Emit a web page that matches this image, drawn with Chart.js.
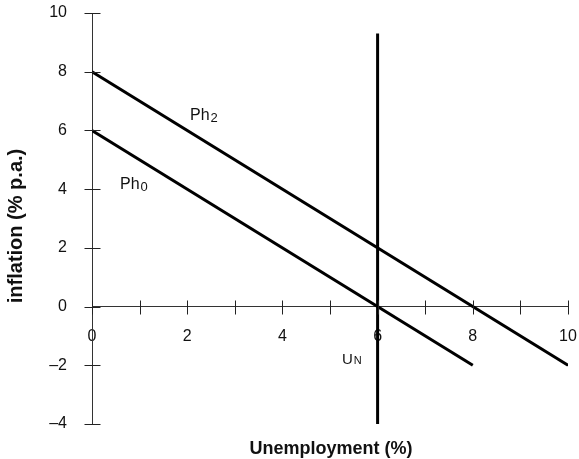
<!DOCTYPE html>
<html>
<head>
<meta charset="utf-8">
<script src="https://cdn.jsdelivr.net/npm/chart.js@4.4.1/dist/chart.umd.min.js"></script>
<style>
  html, body { margin: 0; padding: 0; background: #fff; }
  #wrap { width: 579px; height: 459px; position: relative; }
</style>
</head>
<body>
<div id="wrap"><canvas id="c" width="579" height="459"></canvas></div>
<script>
// ---- data ----
const xTickValues = [0, 1, 2, 3, 4, 5, 6, 7, 8, 9, 10];
const yTickValues = [-4, -2, 0, 2, 4, 6, 8, 10];
const ph0Unemp = [0, 8];
const ph0Infl = [6, -2];
const ph2Unemp = [0, 10];
const ph2Infl = [8, -2];
const unUnemp = [6, 6];
const unInfl = [-4.05, 9.3];
const xTitle = 'Unemployment (%)';
const yTitle = 'inflation (% p.a.)';

function pts(xs, ys) { return xs.map((x, i) => ({ x: x, y: ys[i] })); }

const FONT = "'Liberation Sans', Arial, Helvetica, sans-serif";

const crossTicks = {
  id: 'crossTicks',
  afterDraw(chart) {
    const ctx = chart.ctx;
    const xs = chart.scales.x, ys = chart.scales.y;
    const y0 = Math.round(ys.getPixelForValue(0)) + 0.5;
    const x0 = Math.round(xs.getPixelForValue(0)) + 0.5;
    ctx.save();
    ctx.strokeStyle = '#222';
    ctx.lineWidth = 1;
    ctx.beginPath();
    xTickValues.forEach(v => {
      const px = Math.round(xs.getPixelForValue(v)) + 0.5;
      ctx.moveTo(px, y0 - 7); ctx.lineTo(px, y0 + 7);
    });
    yTickValues.forEach(v => {
      const py = Math.round(ys.getPixelForValue(v)) + 0.5;
      ctx.moveTo(x0 - 8, py); ctx.lineTo(x0 + 8, py);
    });
    ctx.stroke();
    ctx.restore();
  }
};

const labels = {
  id: 'labels',
  afterDatasetsDraw(chart) {
    const ctx = chart.ctx;
    ctx.save();
    ctx.fillStyle = '#111';
    ctx.textBaseline = 'alphabetic';
    ctx.textAlign = 'left';
    function sub(main, s, x, y, f1, f2, dy) {
      ctx.font = f1 + 'px ' + FONT;
      ctx.fillText(main, x, y);
      const w = ctx.measureText(main).width;
      ctx.font = f2 + 'px ' + FONT;
      ctx.fillText(s, x + w + 1, y + dy);
    }
    sub('Ph', '2', 190, 120, 16, 13, 2);
    sub('Ph', '0', 120, 189, 16, 13, 2);
    sub('U', 'N', 342, 364, 15, 11, 0);
    // axis titles
    ctx.textAlign = 'center';
    ctx.textBaseline = 'middle';
    ctx.font = 'bold 18px ' + FONT;
    ctx.fillText(xTitle, 331, 449);
    ctx.font = 'bold 20px ' + FONT;
    ctx.translate(16, 226);
    ctx.rotate(-Math.PI / 2);
    ctx.fillText(yTitle, 0, 0);
    ctx.restore();
  }
};

function zeroPad(scale) {
  scale.paddingTop = 0; scale.paddingBottom = 0;
  scale.paddingLeft = 0; scale.paddingRight = 0;
}

const lineStyle = { showLine: true, borderColor: '#000', borderWidth: 3, pointRadius: 0, fill: false, borderCapStyle: 'butt' };

new Chart(document.getElementById('c'), {
  type: 'scatter',
  data: {
    datasets: [
      Object.assign({ label: 'Ph0', data: pts(ph0Unemp, ph0Infl) }, lineStyle),
      Object.assign({ label: 'Ph2', data: pts(ph2Unemp, ph2Infl) }, lineStyle),
      Object.assign({ label: 'UN', data: pts(unUnemp, unInfl) }, lineStyle)
    ]
  },
  options: {
    responsive: false,
    animation: false,
    layout: { padding: { left: 0, right: 11, top: 13, bottom: 35 } },
    plugins: { legend: { display: false }, tooltip: { enabled: false }, title: { display: false } },
    scales: {
      x: {
        type: 'linear',
        position: { y: 0 },
        min: 0, max: 10,
        afterBuildTicks(scale) { scale.ticks = xTickValues.map(v => ({ value: v })); },
        afterFit: zeroPad,
        ticks: {
          autoSkip: false,
          maxRotation: 0,
          padding: 20,
          color: '#111',
          font: { family: FONT, size: 16 },
          callback: v => (v % 2 === 0 ? String(v) : '')
        },
        grid: { display: true, drawOnChartArea: false, drawTicks: false },
        border: { display: true, color: '#333', width: 1 }
      },
      y: {
        type: 'linear',
        position: 'left',
        min: -4, max: 10,
        afterBuildTicks(scale) { scale.ticks = yTickValues.map(v => ({ value: v })); },
        afterFit(scale) { zeroPad(scale); scale.width = 92; },
        ticks: {
          autoSkip: false,
          padding: 25,
          color: '#111',
          font: { family: FONT, size: 16 },
          callback: v => (v < 0 ? '\u2013' + Math.abs(v) : String(v))
        },
        grid: { display: true, drawOnChartArea: false, drawTicks: false },
        border: { display: true, color: '#333', width: 1 }
      }
    }
  },
  plugins: [crossTicks, labels]
});
</script>
</body>
</html>
